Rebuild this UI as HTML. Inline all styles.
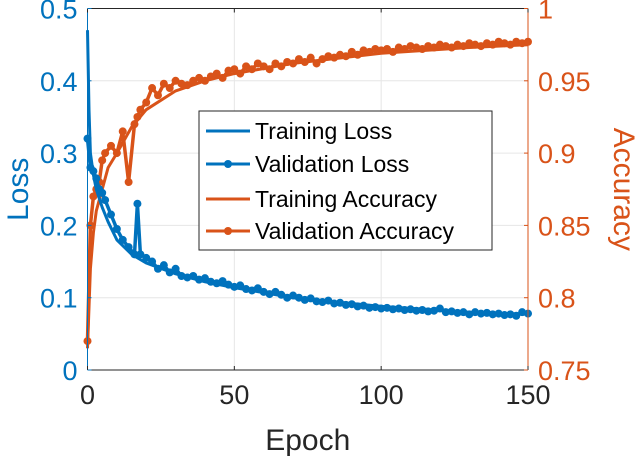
<!DOCTYPE html>
<html><head><meta charset="utf-8"><style>
body{margin:0;background:#fff}
svg{display:block;font-family:"Liberation Sans",sans-serif}
</style></head><body>
<svg id="c" width="640" height="458"></svg>
<script>
const trainLossEpochs=[0,0.5,1,2,3,5,7,10,15,20,30,40,50,70,100,130,150];
const trainLoss=[0.47,0.36,0.3,0.27,0.25,0.225,0.205,0.18,0.16,0.148,0.133,0.122,0.114,0.1,0.088,0.08,0.077];
const trainAccEpochs=[0,1,2,3,5,7,10,15,20,30,40,50,70,100,130,150];
const trainAcc=[0.765,0.82,0.845,0.86,0.875,0.89,0.9,0.918,0.93,0.943,0.95,0.955,0.962,0.969,0.973,0.975];
const valEpochs=[0,1,2,3,4,5,6,8,10,12,14,16,17,18,20,22,24,26,28,30,32,34,36,38,40,42,44,46,48,50,52,54,56,58,60,62,64,66,68,70,72,74,76,78,80,82,84,86,88,90,92,94,96,98,100,102,104,106,108,110,112,114,116,118,120,122,124,126,128,130,132,134,136,138,140,142,144,146,148,150];
const valLoss=[0.32,0.28,0.275,0.265,0.25,0.245,0.235,0.215,0.195,0.18,0.17,0.16,0.23,0.16,
0.155,0.15,0.14,0.145,0.135,0.14,0.13,0.128,0.13,0.125,0.127,0.122,0.12,0.123,0.118,0.115,0.117,0.112,0.11,0.113,0.108,0.105,0.108,0.104,0.1,0.103,0.1,0.097,0.099,0.095,0.094,0.096,0.092,0.093,0.09,0.091,0.088,0.089,0.086,0.087,0.085,0.086,0.084,0.085,0.083,0.084,0.082,0.083,0.081,0.082,0.085,0.08,0.081,0.079,0.08,0.077,0.08,0.078,0.079,0.077,0.078,0.076,0.077,0.075,0.08,0.078];
const valAcc=[0.77,0.85,0.87,0.875,0.88,0.895,0.9,0.905,0.9,0.915,0.88,0.92,0.925,0.93,
0.935,0.945,0.94,0.948,0.945,0.95,0.948,0.947,0.95,0.952,0.95,0.953,0.955,0.952,0.957,0.958,0.955,0.96,0.958,0.962,0.96,0.958,0.962,0.96,0.963,0.962,0.965,0.963,0.966,0.962,0.965,0.967,0.966,0.968,0.967,0.97,0.968,0.971,0.97,0.972,0.971,0.972,0.97,0.973,0.972,0.974,0.973,0.972,0.974,0.973,0.975,0.974,0.973,0.975,0.974,0.976,0.975,0.974,0.976,0.975,0.977,0.976,0.975,0.977,0.976,0.977];
const xTicks=[0,50,100,150];
const yLTicks=[0,0.1,0.2,0.3,0.4,0.5];
const yRTicks=[0.75,0.8,0.85,0.9,0.95,1];
const yRLabels=["0.75","0.8","0.85","0.9","0.95","1"];

const L=87.5,R=528,T=8.5,B=370;
const X=e=>L+e/150*(R-L);
const YL=v=>B-v/0.5*(B-T);
const YR=v=>B-(v-0.75)/0.25*(B-T);
const svg=document.getElementById('c');
const NS='http://www.w3.org/2000/svg';
function mk(tag,attrs,parent){const e=document.createElementNS(NS,tag);for(const k in attrs)e.setAttribute(k,attrs[k]);(parent||svg).appendChild(e);return e;}
const BLUE='#0072BD',RED='#D95319',GR='#262626';
xTicks.forEach(t=>{const g=mk('line',{x1:X(t),x2:X(t),y1:T,y2:B,stroke:'#e6e6e6','stroke-width':1});

});
yLTicks.forEach(t=>{const g=mk('line',{x1:L,x2:R,y1:YL(t),y2:YL(t),stroke:'#e6e6e6','stroke-width':1});

});
function line(xs,ys,yf,col,name,markers){
  const n=Math.min(xs.length,ys.length);let d='';
  for(let i=0;i<n;i++)d+=(i?'L':'M')+X(xs[i]).toFixed(1)+' '+yf(ys[i]).toFixed(1);
  const p=mk('path',{d:d,fill:'none',stroke:col,'stroke-width':markers?3.5:3,'stroke-linejoin':'round'});
  
  
  if(markers){for(let i=0;i<n;i++){const c=mk('circle',{cx:X(xs[i]),cy:yf(ys[i]),r:4,fill:col});
    
    }}
}
line(trainAccEpochs,trainAcc,YR,RED,'training-accuracy-line',false);
line(valEpochs,valAcc,YR,RED,'validation-accuracy-line',true);
line(trainLossEpochs,trainLoss,YL,BLUE,'training-loss-line',false);
line(valEpochs,valLoss,YL,BLUE,'validation-loss-line',true);
let a=mk('line',{x1:L,x2:R,y1:B,y2:B,stroke:GR,'stroke-width':1});
a=mk('line',{x1:L,x2:R,y1:T,y2:T,stroke:GR,'stroke-width':1});
a=mk('line',{x1:L,x2:L,y1:T,y2:B,stroke:BLUE,'stroke-width':1});
a=mk('line',{x1:R,x2:R,y1:T,y2:B,stroke:RED,'stroke-width':1});
xTicks.forEach(t=>{mk('line',{x1:X(t),x2:X(t),y1:B,y2:B-4,stroke:GR});mk('line',{x1:X(t),x2:X(t),y1:T,y2:T+4,stroke:GR});
 const tx=mk('text',{x:X(t),y:B+34,'font-size':27,fill:GR,'text-anchor':'middle'});tx.textContent=t;
 });
yLTicks.forEach(t=>{mk('line',{x1:L,x2:L+4,y1:YL(t),y2:YL(t),stroke:BLUE});
 const tx=mk('text',{x:L-10,y:YL(t)+10,'font-size':27,fill:BLUE,'text-anchor':'end'});tx.textContent=t;
 });
yRTicks.forEach((t,i)=>{mk('line',{x1:R,x2:R-4,y1:YR(t),y2:YR(t),stroke:RED});
 const tx=mk('text',{x:R+10,y:YR(t)+10,'font-size':27,fill:RED});tx.textContent=yRLabels[i];
 });
let t=mk('text',{x:(L+R)/2,y:450,'font-size':30,fill:GR,'text-anchor':'middle'});t.textContent='Epoch';
t=mk('text',{x:0,y:0,'font-size':30,fill:BLUE,'text-anchor':'middle',transform:'translate(28,'+((T+B)/2)+') rotate(-90)'});t.textContent='Loss';
t=mk('text',{x:0,y:0,'font-size':30,fill:RED,'text-anchor':'middle',transform:'translate(614,'+((T+B)/2)+') rotate(90)'});t.textContent='Accuracy';
const lg=mk('g',{});
mk('rect',{x:199,y:111,width:293,height:139,fill:'#fff',stroke:GR,'stroke-width':1},lg);
const ent=[['Training Loss',BLUE,false,131],['Validation Loss',BLUE,true,164],['Training Accuracy',RED,false,199],['Validation Accuracy',RED,true,231]];
ent.forEach(e=>{const g=mk('g',{},lg);
 mk('line',{x1:206,x2:250,y1:e[3],y2:e[3],stroke:e[1],'stroke-width':3},g);
 if(e[2])mk('circle',{cx:228,cy:e[3],r:4,fill:e[1]},g);
 const tx=mk('text',{x:255,y:e[3]+8,'font-size':23,fill:'#000'},g);tx.textContent=e[0];});
</script>
</body></html>
